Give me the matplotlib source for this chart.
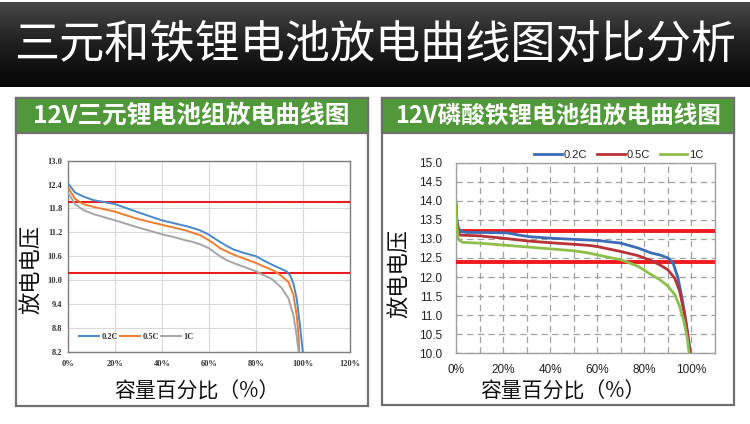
import numpy as np
import matplotlib
matplotlib.use("Agg")
import matplotlib.pyplot as plt
from matplotlib.patches import Rectangle
from matplotlib.colors import LinearSegmentedColormap

plt.rcParams['font.family'] = ['Noto Sans CJK SC', 'DejaVu Sans']

# ---------------- data ----------------
main_title = "三元和铁锂电池放电曲线图对比分析"
left_title = "12V三元锂电池组放电曲线图"
right_title = "12V磷酸铁锂电池组放电曲线图"
y_label = "放电电压"
x_label = "容量百分比（%）"
series_names = ["0.2C", "0.5C", "1C"]

# left: NMC pack
nmc_02_x = [0, 3, 6.5, 10.8, 20, 30, 40, 45, 50, 53, 56.2, 60, 62.5, 64.7, 67.5, 70.4, 75, 80, 83, 86.7, 90, 93, 94.5, 95.9, 97.3, 98.7, 99.9]
nmc_02_y = [12.43, 12.2, 12.1, 12.01, 11.91, 11.70, 11.50, 11.43, 11.36, 11.31, 11.25, 11.14, 11.04, 10.96, 10.86, 10.77, 10.68, 10.6, 10.5, 10.39, 10.3, 10.22, 10.12, 9.92, 9.54, 8.87, 8.2]
nmc_05_x = [0, 3, 6.5, 10.8, 20, 30, 40, 45, 50, 53, 56.2, 60, 62.5, 64.7, 67.5, 70.4, 75, 80, 83, 86.7, 88.6, 90.9, 93.8, 95.9, 97.3, 98.1, 98.4]
nmc_05_y = [12.33, 12.04, 11.91, 11.84, 11.72, 11.53, 11.39, 11.32, 11.25, 11.19, 11.13, 11.0, 10.9, 10.8, 10.72, 10.64, 10.54, 10.43, 10.35, 10.26, 10.2, 10.1, 9.95, 9.63, 9.12, 8.61, 8.2]
nmc_1_x = [0, 3, 6.5, 10.8, 20, 30, 40, 45, 50, 53, 56.2, 60, 62.5, 64.7, 67.5, 70.4, 75, 80, 83, 86.7, 88.6, 90.9, 93.8, 95.9, 97.3, 98.1]
nmc_1_y = [12.2, 11.91, 11.76, 11.66, 11.50, 11.32, 11.15, 11.08, 11.0, 10.96, 10.9, 10.80, 10.69, 10.6, 10.5, 10.43, 10.33, 10.22, 10.13, 10.03, 9.93, 9.8, 9.54, 9.12, 8.61, 8.2]
nmc_ref_lines = [11.95, 10.18]
nmc_yticks = [8.2, 8.8, 9.4, 10.0, 10.6, 11.2, 11.8, 12.4, 13.0]
nmc_xticks = [0, 20, 40, 60, 80, 100, 120]

# right: LFP pack
lfp_02_x = [0, 0.4, 1.0, 2.0, 5, 10, 21.5, 26, 31, 40, 50, 56.5, 60, 70, 77.4, 83, 86.6, 90, 92.2, 94.3, 95.7, 97.2, 98.6, 99.6]
lfp_02_y = [13.93, 13.5, 13.3, 13.19, 13.17, 13.17, 13.16, 13.11, 13.06, 13.02, 12.99, 12.97, 12.96, 12.89, 12.76, 12.63, 12.58, 12.50, 12.37, 11.97, 11.54, 11.02, 10.45, 10.0]
lfp_05_x = [0, 0.4, 1.0, 2.0, 10, 20, 30, 40, 50, 56.5, 60, 70, 77.4, 83, 86.6, 90, 92.9, 95, 96.8, 98.2, 99.3]
lfp_05_y = [13.9, 13.4, 13.15, 13.1, 13.08, 13.02, 12.95, 12.90, 12.86, 12.83, 12.80, 12.67, 12.56, 12.43, 12.32, 12.19, 11.97, 11.63, 11.1, 10.58, 10.0]
lfp_1_x = [0, 0.4, 1.0, 1.7, 3, 10, 20, 30, 40, 50, 56.5, 60, 70.3, 77.4, 83, 86.6, 90, 92.9, 95, 96.8, 98.2, 99]
lfp_1_y = [13.93, 13.3, 13.0, 12.95, 12.91, 12.89, 12.84, 12.79, 12.74, 12.69, 12.63, 12.58, 12.45, 12.28, 12.06, 11.93, 11.76, 11.54, 11.23, 10.84, 10.41, 10.0]
lfp_ref_lines = [13.2, 12.4]
lfp_yticks = [10.0, 10.5, 11.0, 11.5, 12.0, 12.5, 13.0, 13.5, 14.0, 14.5, 15.0]
lfp_xticks = [0, 20, 40, 60, 80, 100]

# ---------------- figure ----------------
W, H = 750, 424
fig = plt.figure(figsize=(W / 100, H / 100), dpi=100)
fig.patch.set_facecolor("white")

bg = fig.add_axes([0, 0, 1, 1])
bg.set_xlim(0, W)
bg.set_ylim(H, 0)
bg.axis("off")

# banner gradient
grad = np.linspace(0, 1, 100).reshape(-1, 1)
cmap = LinearSegmentedColormap.from_list("g", ["#474747", "#1e1e1e", "#060606"])
bg.imshow(grad, cmap=cmap, aspect="auto", extent=(0, W, 87, 2), zorder=0)
bg.text(W / 2, 45, main_title, color="white", fontsize=32.5, ha="center", va="center")

green = "#51983a"
for (x0, x1, y0, y1, title, fs) in [(15.7, 367.7, 98, 406, left_title, 17.8),
                                   (382.3, 734.3, 98, 405, right_title, 17.0)]:
    bg.add_patch(Rectangle((x0, y0), x1 - x0, y1 - y0, facecolor="white",
                           edgecolor="#707070", lw=1.6, zorder=1))
    bg.add_patch(Rectangle((x0, y0), x1 - x0, 35, facecolor=green, edgecolor="#707070",
                           lw=1.6, zorder=2))
    bg.text((x0 + x1) / 2, y0 + 17.5, title, color="white", fontsize=fs, ha="center",
            va="center", weight="bold", zorder=3)

# axis labels
bg.text(32, 270, y_label, rotation=90, fontsize=16, ha="center", va="center", color="#111111")
bg.text(400, 273, y_label, rotation=90, fontsize=16, ha="center", va="center", color="#111111")
bg.text(197, 392, x_label, fontsize=15, ha="center", va="center", color="#111111")
bg.text(563, 392, x_label, fontsize=15, ha="center", va="center", color="#111111")

# ---------------- left chart ----------------
axL = fig.add_axes([68 / W, 1 - 351.7 / H, 282 / W, 191 / H])
axL.set_xlim(0, 120)
axL.set_ylim(8.2, 13.0)
axL.set_yticks(nmc_yticks)
axL.set_xticks(nmc_xticks)
axL.set_yticklabels([f"{v:.1f}" for v in nmc_yticks])
axL.set_xticklabels([f"{v}%" for v in nmc_xticks])
axL.grid(True, color="#d9d9d9", lw=0.8)
axL.set_axisbelow(True)
for s in axL.spines.values():
    s.set_color("#7f7f7f")
    s.set_linewidth(1.0)
axL.tick_params(length=0, pad=4, labelsize=6)
for lab in axL.get_xticklabels() + axL.get_yticklabels():
    lab.set_family("Liberation Serif")
    lab.set_weight("bold")
    lab.set_color("#333333")
axL.tick_params(axis="x", pad=6)
for v in nmc_ref_lines:
    axL.axhline(v, color="#e61e1e", lw=1.5, zorder=3)
lc = ["#4a88c9", "#ed7d31", "#a5a5a5"]
for (xs, ys), c, n in zip([(nmc_02_x, nmc_02_y), (nmc_05_x, nmc_05_y), (nmc_1_x, nmc_1_y)], lc, series_names):
    axL.plot(xs, ys, color=c, lw=1.4, label=n, zorder=4, solid_joinstyle="round")
legL = axL.legend(loc="center left", bbox_to_anchor=(75 / W, 1 - 336.7 / H), bbox_transform=fig.transFigure,
                  ncol=3, frameon=False, borderpad=0, handlelength=2.4, handletextpad=0.25,
                  columnspacing=0.3, prop={"family": "Liberation Serif", "weight": "bold", "size": 6})
for t in legL.get_texts():
    t.set_color("#333333")

# ---------------- right chart ----------------
axR = fig.add_axes([456 / W, 1 - 353.3 / H, 259 / W, 190.6 / H])
axR.set_xlim(0, 110)
axR.set_ylim(10.0, 15.0)
axR.set_yticks(lfp_yticks)
axR.set_xticks(lfp_xticks)
axR.set_xticks(np.arange(10, 110, 20), minor=True)
axR.set_yticklabels([f"{v:.1f}" for v in lfp_yticks])
axR.set_xticklabels([f"{v}%" for v in lfp_xticks])
axR.grid(True, which="both", color="#a0a0a0", lw=0.9, linestyle=(0, (5, 3.5)))
axR.set_axisbelow(True)
for s in axR.spines.values():
    s.set_color("#a0a0a0")
    s.set_linewidth(1.0)
axR.tick_params(which="both", length=0, labelsize=8.5, colors="#222222")
axR.tick_params(axis="y", pad=10)
axR.tick_params(axis="x", pad=8)
for lab in axR.get_xticklabels() + axR.get_yticklabels():
    lab.set_family("Liberation Sans")
for v in lfp_ref_lines:
    axR.axhline(v, color="#f0191e", lw=2.8, zorder=3)
rc = ["#3a6db5", "#b83236", "#8cbf4b"]
for (xs, ys), c, n in zip([(lfp_02_x, lfp_02_y), (lfp_05_x, lfp_05_y), (lfp_1_x, lfp_1_y)], rc, series_names):
    axR.plot(xs, ys, color=c, lw=2.0, label=n, zorder=4, solid_joinstyle="round")
legR = axR.legend(loc="center right", bbox_to_anchor=(709 / W, 1 - 155 / H), bbox_transform=fig.transFigure,
                  ncol=3, frameon=False, borderpad=0, handlelength=2.5, handletextpad=0.15,
                  columnspacing=0.9, prop={"family": "Liberation Sans", "size": 8})
for t in legR.get_texts():
    t.set_color("#222222")

fig.savefig("out.png", dpi=100, facecolor="white")
